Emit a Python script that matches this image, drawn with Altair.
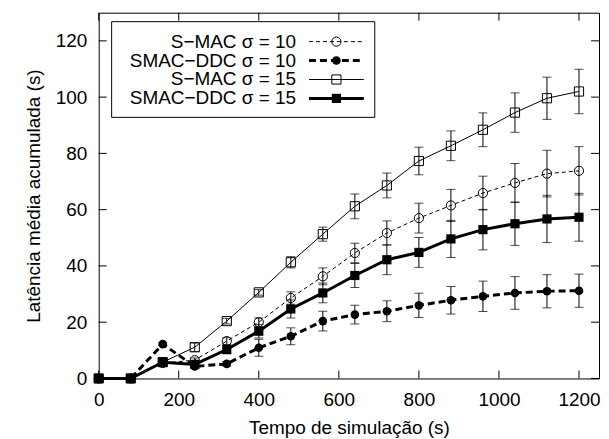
import altair as alt
import pandas as pd

# ---- data ----
x_vals = [0, 80, 160, 240, 320, 400, 480, 560, 640, 720, 800, 880, 960, 1040, 1120, 1200]

smac10 = [0, 0, 5.5, 6.5, 13.3, 20.0, 28.6, 36.3, 44.6, 51.7, 57.0, 61.5, 65.9, 69.5, 72.8, 73.8]
smac10_err = [0, 0, 0.5, 0.8, 1.2, 1.5, 2.2, 3.0, 3.5, 4.3, 5.3, 5.7, 6.0, 6.9, 8.3, 8.6]

ddc10 = [0, 0, 12.2, 4.3, 5.2, 10.9, 15.0, 20.4, 22.7, 23.9, 26.0, 27.8, 29.2, 30.4, 31.0, 31.2]
ddc10_err = [0, 0, 0.5, 0.5, 0.8, 3.0, 3.0, 3.5, 3.3, 3.7, 4.3, 4.9, 5.4, 5.8, 5.9, 5.9]

smac15 = [0, 0, 5.8, 11.1, 20.4, 30.6, 41.3, 51.3, 61.2, 68.6, 77.3, 82.7, 88.4, 94.5, 99.6, 102.0]
smac15_err = [0, 0, 0.5, 1.5, 1.0, 1.0, 2.0, 2.5, 4.4, 4.4, 4.9, 5.3, 6.0, 7.0, 7.5, 7.9]

ddc15 = [0, 0, 5.8, 5.0, 10.3, 16.8, 24.7, 30.4, 36.6, 42.2, 44.8, 49.6, 52.9, 55.0, 56.7, 57.3]
ddc15_err = [0, 0, 0.5, 0.8, 1.5, 2.4, 3.2, 3.5, 4.3, 5.3, 5.3, 6.6, 7.2, 7.7, 8.4, 8.5]

labels = ["S\u2212MAC \u03c3 = 10", "SMAC\u2212DDC \u03c3 = 10", "S\u2212MAC \u03c3 = 15", "SMAC\u2212DDC \u03c3 = 15"]
series_vals = [smac10, ddc10, smac15, ddc15]
series_errs = [smac10_err, ddc10_err, smac15_err, ddc15_err]

x_ticks = [0, 200, 400, 600, 800, 1000, 1200]
y_ticks = [0, 20, 40, 60, 80, 100, 120]

# ---- styling ----
FONT = "Liberation Sans"
FS = 19
W, H = 502, 367
xs = alt.Scale(domain=[0, 1250], nice=False, zero=False)
ys = alt.Scale(domain=[0, 130], nice=False, zero=False)

styles = [
    dict(dash=[4, 3], width=1, shape="circle", filled=False, size=85),
    dict(dash=[7, 4], width=3, shape="circle", filled=True, size=75),
    dict(dash=None, width=1, shape="square", filled=False, size=85),
    dict(dash=None, width=3, shape="square", filled=True, size=85),
]

x_axis = alt.Axis(values=x_ticks, title="Tempo de simulação (s)", ticks=False, domain=False,
                  grid=False, labelFlush=False, labelOverlap=False, labelPadding=12,
                  titlePadding=9, format="d",
                  labelFont=FONT, labelFontSize=FS, labelColor="black",
                  titleFont=FONT, titleFontSize=FS, titleColor="black", titleFontWeight="normal")
y_axis = alt.Axis(values=y_ticks, title="Latência média acumulada (s)", ticks=False,
                  domain=False, grid=False, labelOverlap=False, labelPadding=12,
                  titlePadding=12, format="d",
                  labelFont=FONT, labelFontSize=FS, labelColor="black",
                  titleFont=FONT, titleFontSize=FS, titleColor="black", titleFontWeight="normal")


def X(field):
    return alt.X(field, type="quantitative", scale=xs, axis=x_axis)


def Y(field):
    return alt.Y(field, type="quantitative", scale=ys, axis=y_axis)


layers = []
for vals, errs, st in zip(series_vals, series_errs, styles):
    df = pd.DataFrame({"x": x_vals, "y": vals, "err": errs})
    df["lo"] = df["y"] - df["err"]
    df["hi"] = df["y"] + df["err"]
    base = alt.Chart(df)
    layers.append(base.mark_rule(color="black", strokeWidth=1).encode(
        x=X("x"), y=Y("lo"), y2="hi"))
    layers.append(base.mark_tick(color="black", orient="horizontal", size=9, thickness=1).encode(
        x=X("x"), y=Y("lo")))
    layers.append(base.mark_tick(color="black", orient="horizontal", size=9, thickness=1).encode(
        x=X("x"), y=Y("hi")))
    line_kw = dict(color="black", strokeWidth=st["width"])
    if st["dash"]:
        line_kw["strokeDash"] = st["dash"]
    layers.append(base.mark_line(**line_kw).encode(x=X("x"), y=Y("y")))
    layers.append(base.mark_point(shape=st["shape"], filled=st["filled"], size=st["size"],
                                  color="black", strokeWidth=1, opacity=1).encode(
        x=X("x"), y=Y("y")))

# inward ticks on all four sides (mirror ticks)
xt = alt.Chart(pd.DataFrame({"t": x_ticks}))
yt = alt.Chart(pd.DataFrame({"t": y_ticks}))
layers.append(xt.mark_rule(color="black", strokeWidth=1).encode(
    x=X("t"), y=alt.value(H), y2=alt.value(H - 8)))
layers.append(xt.mark_rule(color="black", strokeWidth=1).encode(
    x=X("t"), y=alt.value(0), y2=alt.value(8)))
layers.append(yt.mark_rule(color="black", strokeWidth=1).encode(
    y=Y("t"), x=alt.value(0), x2=alt.value(8)))
layers.append(yt.mark_rule(color="black", strokeWidth=1).encode(
    y=Y("t"), x=alt.value(W - 8), x2=alt.value(W)))

# legend box (label on the left, sample on the right, like gnuplot)
layers.append(alt.Chart(pd.DataFrame({"a": [0]})).mark_rect(
    fill="white", stroke="black", strokeWidth=1).encode(
    x=alt.value(13), x2=alt.value(277), y=alt.value(9), y2=alt.value(105)))
for i, (lab, st) in enumerate(zip(labels, styles)):
    yy = 29 + 19 * i
    ldf = alt.Chart(pd.DataFrame({"label": [lab]}))
    layers.append(ldf.mark_text(align="right", baseline="middle", font=FONT, fontSize=FS,
                                color="black").encode(
        x=alt.value(198), y=alt.value(yy), text="label:N"))
    rkw = dict(color="black", strokeWidth=st["width"])
    if st["dash"]:
        rkw["strokeDash"] = st["dash"]
    layers.append(ldf.mark_rule(**rkw).encode(
        x=alt.value(211), x2=alt.value(266), y=alt.value(yy)))
    layers.append(ldf.mark_point(shape=st["shape"], filled=st["filled"], size=st["size"],
                                 color="black", strokeWidth=1, opacity=1).encode(
        x=alt.value(238.5), y=alt.value(yy)))

chart = alt.layer(*layers).properties(
    width=W, height=H,
    background="white",
    autosize=alt.AutoSizeParams(type="none"),
    padding={"left": 91, "top": 4, "right": 2, "bottom": 60},
).configure_view(
    stroke="black", strokeWidth=1
)

chart.save("out.html", embed_options={"renderer": "svg", "actions": False})
